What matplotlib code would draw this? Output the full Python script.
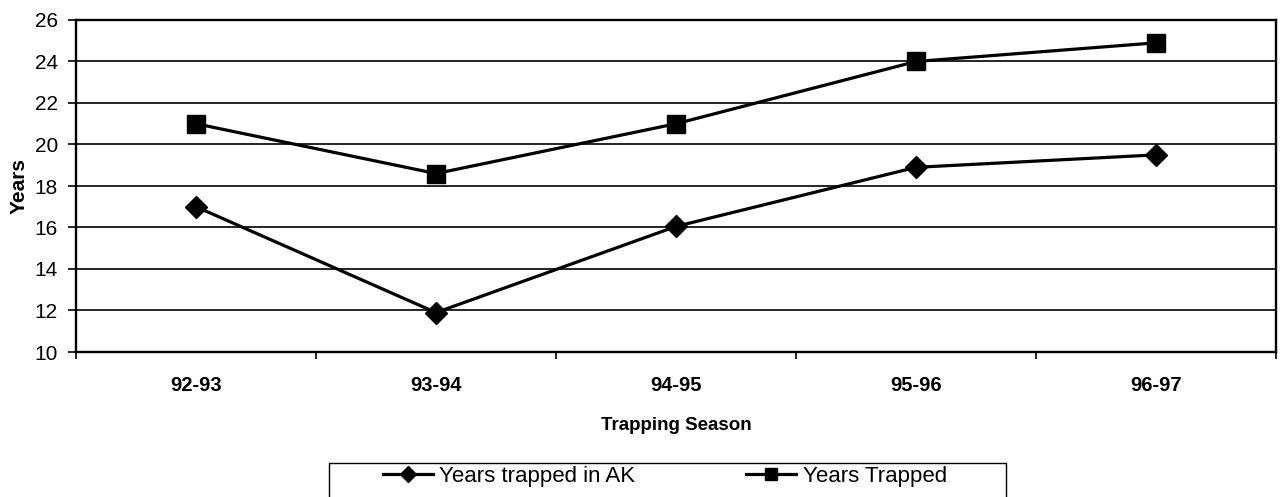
import numpy as np
import matplotlib
matplotlib.use("Agg")
import matplotlib.pyplot as plt
from matplotlib.patches import Rectangle

plt.rcParams['font.family'] = ['Liberation Sans', 'DejaVu Sans']

seasons = ['92-93', '93-94', '94-95', '95-96', '96-97']
years_in_ak = [17.0, 11.9, 16.05, 18.9, 19.5]
years_trapped = [21.0, 18.6, 21.0, 24.0, 24.9]
y_ticks = [10, 12, 14, 16, 18, 20, 22, 24, 26]

fig = plt.figure(figsize=(12.81, 4.97), dpi=100)
ax = fig.add_axes([76/1281, 1 - 352/497, 1200/1281, 332/497])

x = np.arange(len(seasons))
ax.plot(x, years_in_ak, color='black', lw=2.3, marker='D', ms=11,
        label='Years trapped in AK', zorder=3)
ax.plot(x, years_trapped, color='black', lw=2.3, marker='s', ms=13,
        label='Years Trapped', zorder=3)

ax.set_xlim(-0.5, len(seasons) - 0.5)
ax.set_ylim(10, 26)
ax.set_yticks(y_ticks)
ax.set_yticklabels([str(t) for t in y_ticks], fontsize=15)
ax.set_xticks(x)
ax.set_xticklabels(seasons, fontsize=14.5, fontweight='bold')
ax.set_xticks(np.arange(-0.5, len(seasons)), minor=True)
ax.tick_params(axis='x', which='major', length=0, pad=17)
ax.tick_params(axis='x', which='minor', length=5, width=1.2, direction='out')
ax.tick_params(axis='y', length=6, width=1.2, pad=7)

ax.grid(axis='y', color='black', lw=1.2)
ax.set_axisbelow(True)
for s in ax.spines.values():
    s.set_linewidth(1.7)

ax.set_xlabel('Trapping Season', fontsize=13.5, fontweight='bold', labelpad=16)
ax.set_ylabel('Years', fontsize=15, fontweight='bold', labelpad=4)

# legend box drawn separately so the padding can be wider than tall
fig.patches.append(Rectangle((329/1281, 1 - 520/497), 677/1281, 57/497,
                             transform=fig.transFigure, fill=False,
                             edgecolor='black', lw=1.0))
leg = fig.legend(loc='upper left', bbox_to_anchor=(383/1281, 1 - 466/497),
                 ncol=2, frameon=False, fontsize=16, markerscale=0.7,
                 handlelength=2.25, handletextpad=0.28, columnspacing=5.0,
                 borderaxespad=0, borderpad=0)

fig.savefig('out.png', dpi=100)
